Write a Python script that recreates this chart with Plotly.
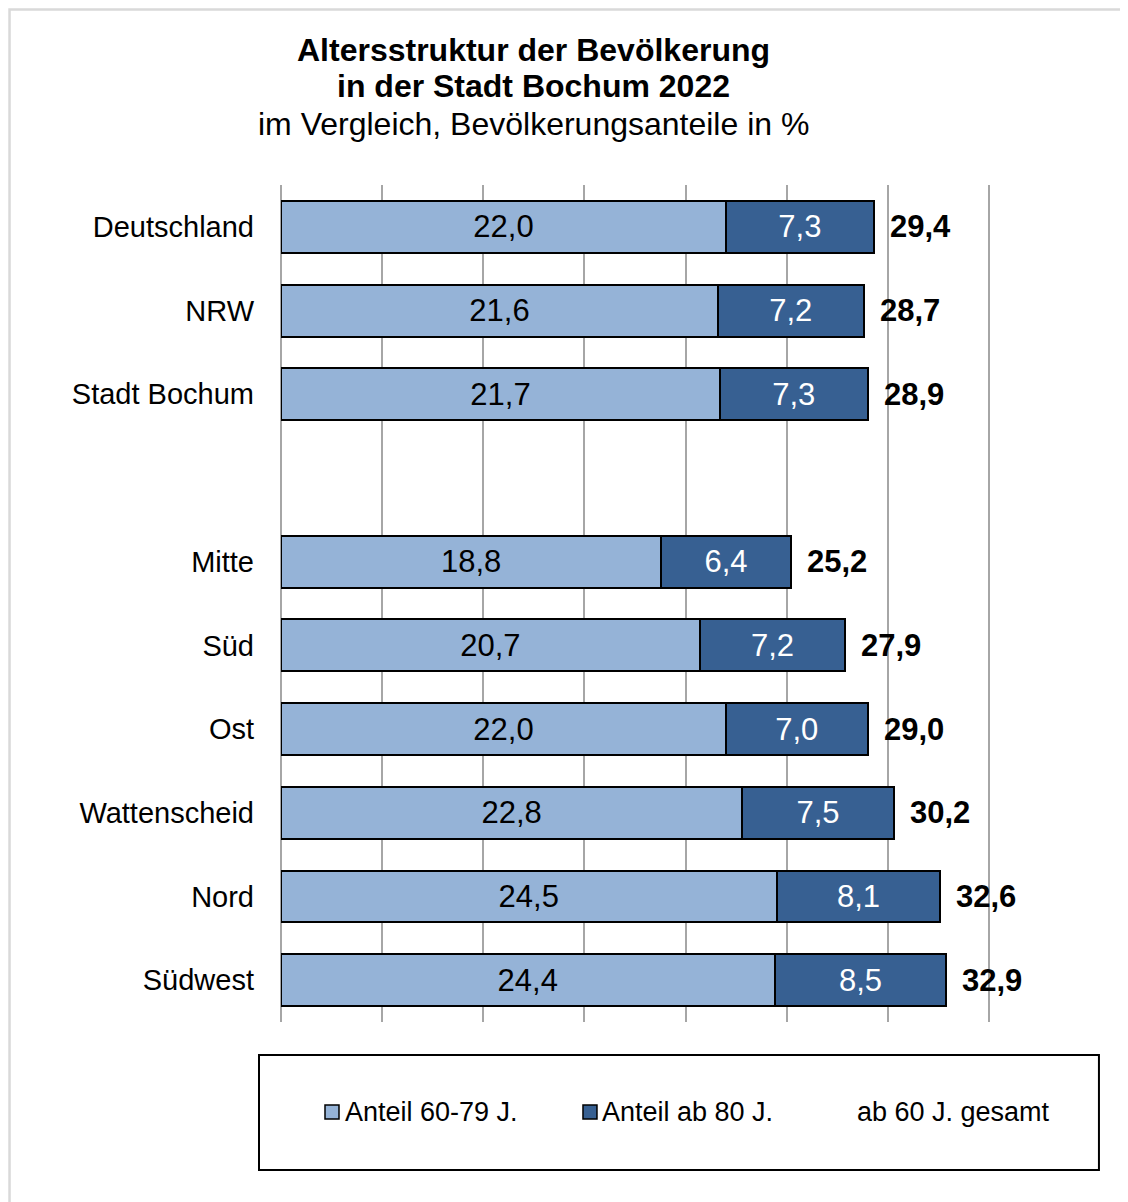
import plotly.graph_objects as go

categories = ["Deutschland", "NRW", "Stadt Bochum", " ", "Mitte", "Süd", "Ost",
              "Wattenscheid", "Nord", "Südwest"]
anteil_60_79 = [22.0, 21.6, 21.7, None, 18.8, 20.7, 22.0, 22.8, 24.5, 24.4]
anteil_ab_80 = [7.3, 7.2, 7.3, None, 6.4, 7.2, 7.0, 7.5, 8.1, 8.5]
gesamt = [29.4, 28.7, 28.9, None, 25.2, 27.9, 29.0, 30.2, 32.6, 32.9]
series_names = ["Anteil 60-79 J.", "Anteil ab 80 J.", "ab 60 J. gesamt"]

LIGHT = "#95B3D7"
DARK = "#376092"
FONT = "Liberation Sans, Arial, sans-serif"

W, H = 1128, 1202
OFF = 8  # page body margin
L, T, B = 281, 185, 1022  # plot area bounds in page pixels
X35 = 989                 # pixel position of the 35 gridline
XMAX = 35.2               # small headroom so the last gridline is drawn
R = L + (X35 - L) * XMAX / 35


def px(x):
    return (x - L) / (R - L)


def py(y):
    return (B - y) / (B - T)


fig = go.Figure()
fig.add_trace(go.Bar(
    y=categories, x=anteil_60_79, orientation="h", name=series_names[0],
    marker=dict(color=LIGHT, line=dict(color="black", width=2)),
    texttemplate="%{x:.1f}", textposition="inside", insidetextanchor="middle",
    constraintext="none", textfont=dict(size=31, color="black", family=FONT),
    showlegend=False, hoverinfo="skip",
))
fig.add_trace(go.Bar(
    y=categories, x=anteil_ab_80, orientation="h", name=series_names[1],
    marker=dict(color=DARK, line=dict(color="black", width=2)),
    texttemplate="%{x:.1f}", textposition="inside", insidetextanchor="middle",
    constraintext="none", textfont=dict(size=31, color="white", family=FONT),
    showlegend=False, hoverinfo="skip",
))

annotations = []
for cat, a, b, g in zip(categories, anteil_60_79, anteil_ab_80, gesamt):
    if g is None:
        continue
    annotations.append(dict(
        x=a + b, y=cat, xref="x", yref="y", text=f"<b>{g:.1f}</b>".replace(".", ","),
        showarrow=False, xanchor="left", yanchor="middle", xshift=14,
        font=dict(size=31, color="black", family=FONT),
    ))

# Title lines
title_lines = [("<b>Altersstruktur der Bevölkerung</b>", 50),
               ("<b>in der Stadt Bochum 2022</b>", 86),
               ("im Vergleich, Bevölkerungsanteile in %", 124)]
for txt, yy in title_lines:
    annotations.append(dict(
        x=px(534), y=py(yy), xref="paper", yref="paper", text=txt, showarrow=False,
        xanchor="center", yanchor="middle", font=dict(size=32, color="black", family=FONT),
    ))

shapes = []
# outer frame
shapes.append(dict(type="rect", xref="paper", yref="paper",
                   x0=px(9.5), x1=px(1145), y0=py(1220), y1=py(9.5),
                   line=dict(color="#D9D9D9", width=2.5), fillcolor="rgba(0,0,0,0)", layer="below"))
# legend box
shapes.append(dict(type="rect", xref="paper", yref="paper",
                   x0=px(259), x1=px(1099), y0=py(1170), y1=py(1055),
                   line=dict(color="black", width=2), fillcolor="rgba(0,0,0,0)"))
# legend items
leg_y = 1112
for (sq_x, color, text_x, name) in [(325, LIGHT, 343, series_names[0]),
                                    (583, DARK, 600, series_names[1]),
                                    (None, None, 855, series_names[2])]:
    if sq_x is not None:
        shapes.append(dict(type="rect", xref="paper", yref="paper",
                           x0=px(sq_x), x1=px(sq_x + 14), y0=py(leg_y + 7), y1=py(leg_y - 7),
                           line=dict(color="black", width=1.5), fillcolor=color))
    annotations.append(dict(
        x=px(text_x), y=py(leg_y), xref="paper", yref="paper", text=name, showarrow=False,
        xanchor="left", yanchor="middle", font=dict(size=27, color="black", family=FONT),
    ))

fig.update_layout(
    width=W, height=H, barmode="stack", bargap=0.38,
    separators=",.",
    plot_bgcolor="white", paper_bgcolor="white",
    margin=dict(l=L - OFF, r=W - (R - OFF), t=T - OFF, b=H - (B - OFF), pad=0),
    font=dict(family=FONT, color="black"),
    annotations=annotations, shapes=shapes, showlegend=False,
    xaxis=dict(range=[0, XMAX], tick0=0, dtick=5, showgrid=True, gridcolor="#A6A6A6", gridwidth=2,
               showticklabels=False, zeroline=True, zerolinecolor="#A6A6A6", zerolinewidth=2,
               showline=False, fixedrange=True),
    yaxis=dict(categoryorder="array", categoryarray=categories, autorange="reversed",
               showgrid=False, showline=False, ticks="",
               tickfont=dict(size=29, color="black", family=FONT), ticklabelstandoff=26),
)

fig.write_html("out.html")
